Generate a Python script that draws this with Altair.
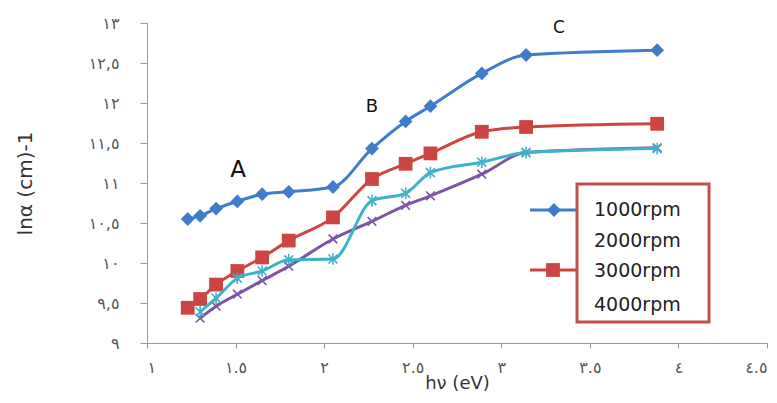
import json
import pandas as pd
import altair as alt

# ---- data ----
hv_1000 = [1.23, 1.30, 1.39, 1.51, 1.65, 1.80, 2.05, 2.27, 2.46, 2.60, 2.89, 3.14, 3.88]
ln_1000 = [10.55, 10.59, 10.68, 10.77, 10.86, 10.89, 10.95, 11.43, 11.77, 11.96, 12.37, 12.60, 12.66]

hv_3000 = [1.23, 1.30, 1.39, 1.51, 1.65, 1.80, 2.05, 2.27, 2.46, 2.60, 2.89, 3.14, 3.88]
ln_3000 = [9.44, 9.55, 9.73, 9.90, 10.07, 10.28, 10.57, 11.05, 11.24, 11.37, 11.64, 11.70, 11.74]

hv_2000 = [1.30, 1.39, 1.51, 1.65, 1.80, 2.05, 2.27, 2.46, 2.60, 2.89, 3.14, 3.88]
ln_2000 = [9.31, 9.46, 9.61, 9.78, 9.96, 10.30, 10.52, 10.72, 10.84, 11.11, 11.38, 11.44]

hv_4000 = [1.30, 1.39, 1.51, 1.65, 1.80, 2.05, 2.27, 2.46, 2.60, 2.89, 3.14, 3.88]
ln_4000 = [9.39, 9.56, 9.81, 9.90, 10.04, 10.05, 10.78, 10.87, 11.13, 11.26, 11.38, 11.43]

series_names = ["1000rpm", "2000rpm", "3000rpm", "4000rpm"]
x_tick_values = [1, 1.5, 2, 2.5, 3, 3.5, 4, 4.5]
x_tick_labels = ["١", "١.٥", "٢", "٢.٥", "٣", "٣.٥", "٤", "٤.٥"]
y_tick_values = [9, 9.5, 10, 10.5, 11, 11.5, 12, 12.5, 13]
y_tick_labels = ["٩", "٩,٥", "١٠", "١٠,٥", "١١", "١١,٥", "١٢", "١٢,٥", "١٣"]
annotations = ["A", "B", "C"]

BLUE = "#3F7DCB"
RED = "#CD4540"
PURPLE = "#7C55A6"
CYAN = "#3FB2C9"
AXIS = "#9A9A9A"

def frame(name, xs, ys):
    return pd.DataFrame({"hv": xs, "ln": ys, "series": name})

d1000 = frame("1000rpm", hv_1000, ln_1000)
d2000 = frame("2000rpm", hv_2000, ln_2000)
d3000 = frame("3000rpm", hv_3000, ln_3000)
d4000 = frame("4000rpm", hv_4000, ln_4000)

x_expr = json.dumps(x_tick_labels, ensure_ascii=False) + "[round((datum.value-1)*2)]"
y_expr = json.dumps(y_tick_labels, ensure_ascii=False) + "[round((datum.value-9)*2)]"

x_enc = alt.X("hv:Q", scale=alt.Scale(domain=[1, 4.5], nice=False, zero=False),
              axis=alt.Axis(values=x_tick_values, labelExpr=x_expr, title="hν (eV)",
                            grid=False, domainColor=AXIS, tickColor=AXIS, tickSize=5,
                            labelOverlap=False, labelFont="DejaVu Sans", labelFontSize=16,
                            labelColor="#555555", labelPadding=11, titleFont="DejaVu Sans",
                            titleFontSize=18, titleFontWeight="normal", titleColor="#333333",
                            titleY=31))
y_enc = alt.Y("ln:Q", scale=alt.Scale(domain=[9, 13], nice=False, zero=False),
              axis=alt.Axis(values=y_tick_values, labelExpr=y_expr, title="lnα (cm)-1",
                            grid=False, domainColor=AXIS, tickColor=AXIS, tickSize=7,
                            labelOverlap=False, labelFont="DejaVu Sans", labelFontSize=16,
                            labelColor="#555555", labelPadding=21, titleFont="DejaVu Sans",
                            titleFontSize=20, titleFontWeight="normal", titleColor="#333333",
                            titleX=-112, titleY=160))

def series_layer(df, color, shape, size, filled, sw=1.5):
    line = alt.Chart(df).mark_line(color=color, strokeWidth=3, interpolate="monotone").encode(
        x=x_enc, y=y_enc)
    pts = alt.Chart(df).mark_point(color=color, shape=shape, size=size, filled=filled,
                                   opacity=1, strokeWidth=sw).encode(x=x_enc, y=y_enc)
    return line + pts

XSHAPE = "M-1,-1L1,1M-1,1L1,-1"
ASTER = "M-1,-1L1,1M-1,1L1,-1M0,-1.3L0,1.3"

s1000 = series_layer(d1000, BLUE, "diamond", 190, True)
s2000 = series_layer(d2000, PURPLE, XSHAPE, 75, False, 1.6)
s3000 = series_layer(d3000, RED, "square", 190, True)
s4000 = series_layer(d4000, CYAN, ASTER, 80, False, 1.6)

# legend box (decoration, pixel positions inside the plot area)
leg_box = alt.Chart().mark_rect(fill="white", stroke="#C0504D", strokeWidth=3).encode(
    x=alt.value(430), x2=alt.value(562), y=alt.value(161), y2=alt.value(299))
leg_blue_line = alt.Chart().mark_rule(color=BLUE, strokeWidth=3).encode(
    x=alt.value(383), x2=alt.value(429), y=alt.value(187))
leg_blue_pt = alt.Chart().mark_point(color=BLUE, shape="diamond", size=190, filled=True, opacity=1).encode(
    x=alt.value(407), y=alt.value(187))
leg_red_line = alt.Chart().mark_rule(color=RED, strokeWidth=3).encode(
    x=alt.value(383), x2=alt.value(429), y=alt.value(247))
leg_red_pt = alt.Chart().mark_point(color=RED, shape="square", size=190, filled=True, opacity=1).encode(
    x=alt.value(406), y=alt.value(247))

leg_y = [187, 218, 248, 282]
leg_texts = [
    alt.Chart().mark_text(text=name, align="left", baseline="middle", font="DejaVu Sans",
                          fontSize=19, color="#222222").encode(x=alt.value(447), y=alt.value(yy))
    for name, yy in zip(series_names, leg_y)
]

ann_pos = [(91, 147, 23), (225, 84, 18), (412, 5, 17)]
ann_texts = [
    alt.Chart().mark_text(text=t, align="center", baseline="middle", font="DejaVu Sans",
                          fontSize=fs, color="#111111").encode(x=alt.value(px), y=alt.value(py))
    for t, (px, py, fs) in zip(annotations, ann_pos)
]

bottom_line = alt.Chart().mark_rule(color="#CFCFCF", strokeWidth=1).encode(
    x=alt.value(-147), x2=alt.value(630), y=alt.value(374))

chart = alt.layer(
    s1000, s2000, s3000, s4000,
    leg_box, leg_blue_line, leg_blue_pt, leg_red_line, leg_red_pt,
    *leg_texts, *ann_texts, bottom_line,
).properties(
    width=620, height=320,
    autosize=alt.AutoSizeParams(type="none"),
    padding={"left": 139, "top": 15, "right": 2, "bottom": 52},
).configure_view(stroke=None).configure_axis(domainWidth=1, tickWidth=1, labelOverlap=False)

chart.save("out.html", embed_options={"renderer": "svg", "actions": False})
